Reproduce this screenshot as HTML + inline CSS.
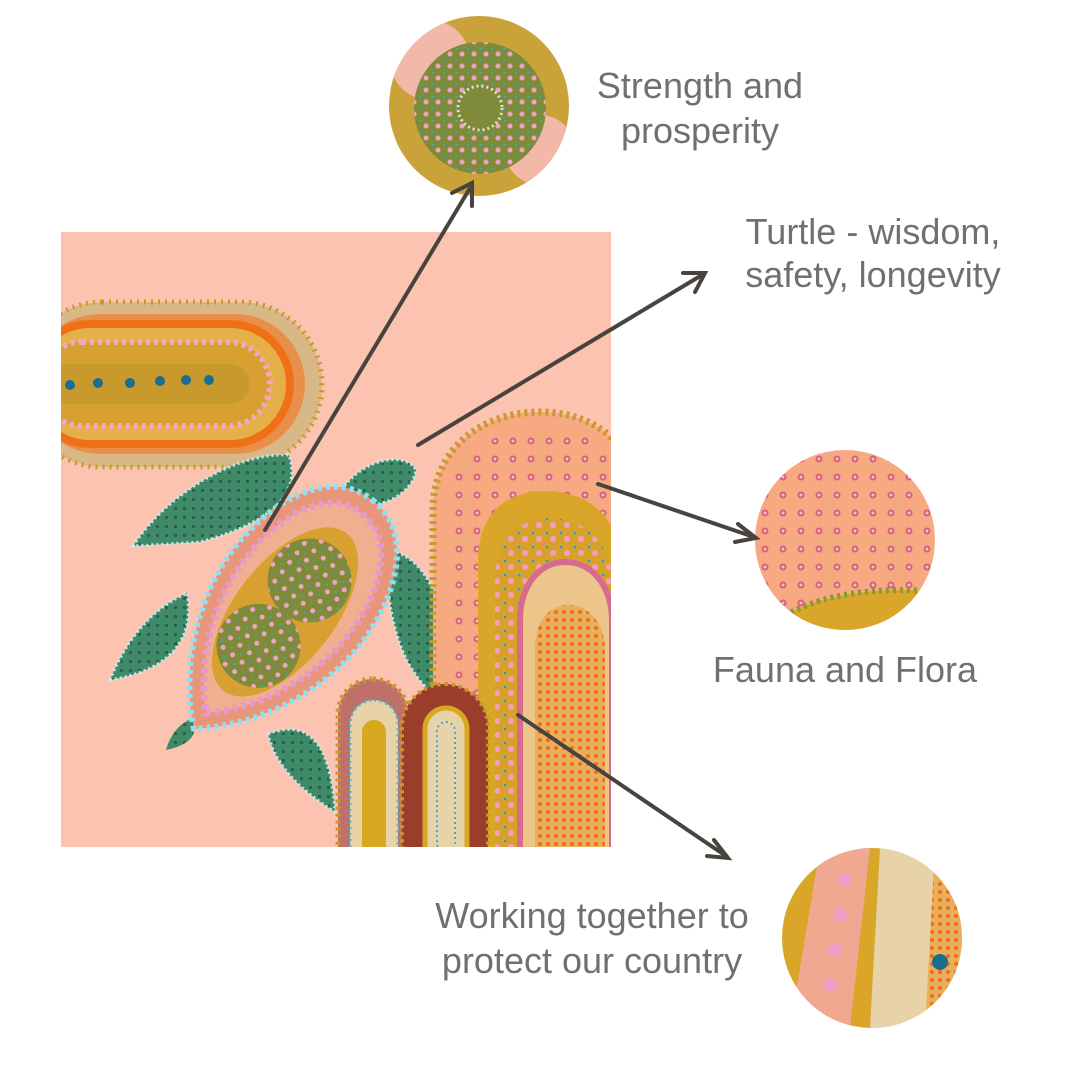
<!DOCTYPE html>
<html><head><meta charset="utf-8"><style>
html,body{margin:0;padding:0;background:#fff}
svg{display:block}
text{font-family:"Liberation Sans",sans-serif;fill:#707072;font-size:36px;text-anchor:middle}
</style></head><body>
<svg width="1080" height="1080" viewBox="0 0 1080 1080" xmlns="http://www.w3.org/2000/svg">
<defs>
<pattern id="gd" width="9" height="9" patternUnits="userSpaceOnUse"><rect width="9" height="9" fill="#3f8a68"/><circle cx="4.5" cy="4.5" r="1.6" fill="#2b5e4a"/></pattern>
<pattern id="pd" width="18" height="18" patternUnits="userSpaceOnUse"><rect width="18" height="18" fill="#f7a982"/><circle cx="9" cy="9" r="3.5" fill="#d95f7a"/><circle cx="9" cy="9" r="1.5" fill="#f6c0c8"/></pattern>
<pattern id="od" width="8" height="8" patternUnits="userSpaceOnUse"><rect width="8" height="8" fill="#e8b05a"/><circle cx="4" cy="4" r="2" fill="#f06a20"/></pattern>
<pattern id="md" width="12" height="12" patternUnits="userSpaceOnUse"><rect width="12" height="12" fill="#7f8a3a"/><circle cx="6" cy="6" r="2.5" fill="#e9a8c0"/><circle cx="0" cy="0" r="1.8" fill="#2bb7c8"/></pattern>
<pattern id="bd" width="14" height="14" patternUnits="userSpaceOnUse"><rect width="14" height="14" fill="#d8a22a"/><circle cx="7" cy="7" r="3" fill="#f0a0c0"/><circle cx="0" cy="0" r="2.5" fill="#2a9ac8"/></pattern>
<clipPath id="pc"><rect x="61" y="232" width="550" height="615"/></clipPath>
<clipPath id="c1"><circle cx="479" cy="106" r="90"/></clipPath>
<clipPath id="c2"><circle cx="845" cy="540" r="90"/></clipPath>
<clipPath id="c3"><circle cx="872" cy="938" r="90"/></clipPath>
</defs>
<rect x="61" y="232" width="550" height="615" fill="#fcc3b1"/>
<g clip-path="url(#pc)">
 <rect x="20" y="302" width="302" height="165" rx="82" fill="#d9b887" stroke="#c89a2a" stroke-width="5" stroke-dasharray="2 5"/>
 <rect x="30" y="314" width="275" height="140" rx="70" fill="#e88f4a"/>
 <rect x="30" y="324" width="260" height="120" rx="60" fill="#e6b048" stroke="#f07018" stroke-width="8"/>
 <rect x="40" y="342" width="230" height="84" rx="42" fill="#d8a030" stroke="#f2a6c0" stroke-width="6" stroke-dasharray="4 4"/>
 <rect x="50" y="364" width="200" height="40" rx="20" fill="#c89a2e"/>
 <g fill="#1a6d8f"><circle cx="70" cy="385" r="5"/><circle cx="98" cy="383" r="5"/><circle cx="130" cy="383" r="5"/><circle cx="160" cy="381" r="5"/><circle cx="186" cy="380" r="5"/><circle cx="209" cy="380" r="5"/></g>
 <path d="M133 546 C170 490 240 452 289 455 C300 490 280 520 200 542 Z" fill="url(#gd)" stroke="#bfeeee" stroke-width="3" stroke-dasharray="2 3"/>
 <path d="M342 490 C360 460 405 450 416 470 C412 495 380 510 350 505 Z" fill="url(#gd)" stroke="#bfeeee" stroke-width="3" stroke-dasharray="2 3"/>
 <path d="M387 550 C430 555 455 620 450 703 C415 690 385 640 387 550 Z" fill="url(#gd)" stroke="#bfeeee" stroke-width="3" stroke-dasharray="2 3"/>
 <path d="M110 680 C130 630 160 605 187 593 C195 640 170 670 110 680 Z" fill="url(#gd)" stroke="#bfeeee" stroke-width="3" stroke-dasharray="2 3"/>
 <path d="M166 750 C170 735 180 722 194 718 C198 735 190 745 166 750 Z" fill="url(#gd)"/>
 <path d="M268 734 C300 722 330 730 335 812 C300 790 275 765 268 734 Z" fill="url(#gd)" stroke="#bfeeee" stroke-width="3" stroke-dasharray="2 3"/>
 <g transform="rotate(38 285 612)">
  <path d="M285 470 C350 470 372 560 362 620 C352 690 310 740 285 760 C260 740 218 690 208 620 C198 560 220 470 285 470 Z" fill="#e8957a" stroke="#8fe0f2" stroke-width="6" stroke-dasharray="4 4"/>
  <path d="M285 487 C338 487 356 565 347 620 C338 680 305 722 285 740 C265 722 232 680 223 620 C214 565 232 487 285 487 Z" fill="#f0b090" stroke="#e79ac8" stroke-width="7" stroke-dasharray="5 4"/>
  <ellipse cx="285" cy="612" rx="50" ry="100" fill="#d8a030"/>
  <circle cx="285" cy="572" r="42" fill="url(#md)"/>
  <circle cx="285" cy="655" r="42" fill="url(#md)"/>
 </g>
 <path d="M433 860 L433 510 C433 450 480 412 540 412 C600 412 640 450 640 510 L640 860 Z" fill="#f7a982" stroke="#c89a2a" stroke-width="7" stroke-dasharray="3 4"/>
 <path d="M446 860 L446 515 C446 462 490 428 540 428 C600 428 630 462 630 515 L630 860 Z" fill="url(#pd)"/>
 <path d="M478 860 L478 560 C478 515 505 491 545 491 C590 491 620 520 620 560 L620 860 Z" fill="#d9a62a"/>
 <path d="M495 860 L495 580 C495 540 520 518 550 518 C585 518 612 545 612 580 L612 860 Z" fill="url(#bd)"/>
 <path d="M520 860 L520 620 C520 585 540 562 565 562 C595 562 612 590 612 620 L612 860 Z" fill="#ecc58a" stroke="#d76b8e" stroke-width="6"/>
 <path d="M535 860 L535 650 C535 620 550 605 568 605 C590 605 605 625 605 650 L605 860 Z" fill="url(#od)"/>
 <rect x="338" y="679" width="70" height="200" rx="35" fill="#c0706a" stroke="#c89a2a" stroke-width="5" stroke-dasharray="3 4"/>
 <rect x="350" y="700" width="48" height="170" rx="24" fill="#e8d2a8" stroke="#3ab8d0" stroke-width="3" stroke-dasharray="2 4"/>
 <rect x="362" y="720" width="24" height="140" rx="12" fill="#d8a820"/>
 <rect x="402" y="684" width="86" height="200" rx="43" fill="#9a3d2a" stroke="#c89a2a" stroke-width="4" stroke-dasharray="3 4"/>
 <rect x="425" y="708" width="42" height="160" rx="21" fill="#e8d2a8" stroke="#d8a820" stroke-width="5"/>
 <rect x="437" y="722" width="18" height="130" rx="9" fill="#e8d2a8" stroke="#4aa8d8" stroke-width="2" stroke-dasharray="2 3"/>
</g>
<g clip-path="url(#c1)">
 <rect x="389" y="16" width="180" height="180" fill="#c9a23a"/>
 <circle cx="430" cy="60" r="40" fill="#f2b8a8"/>
 <circle cx="540" cy="150" r="35" fill="#f2b8a8"/>
 <circle cx="480" cy="108" r="66" fill="url(#md)"/>
 <circle cx="480" cy="108" r="22" fill="#7f8a3a" stroke="#e8e0c8" stroke-width="3" stroke-dasharray="2 3"/>
</g>
<g clip-path="url(#c2)">
 <rect x="755" y="450" width="180" height="180" fill="url(#pd)"/>
 <ellipse cx="900" cy="650" rx="140" ry="60" fill="#d9a62a" stroke="#8a9a30" stroke-width="6" stroke-dasharray="3 4"/>
</g>
<g clip-path="url(#c3)">
 <rect x="782" y="848" width="180" height="180" fill="#d9a62a"/>
 <path d="M820 848 L870 848 L850 1028 L790 1028 Z" fill="#f0a890"/>
 <path d="M880 848 L935 848 L930 1028 L870 1028 Z" fill="#e8d2a8"/>
 <path d="M935 848 L962 848 L962 1028 L925 1028 Z" fill="url(#od)"/>
 <g fill="#f0a0c8"><circle cx="845" cy="880" r="7"/><circle cx="840" cy="915" r="7"/><circle cx="835" cy="950" r="7"/><circle cx="830" cy="985" r="7"/></g>
 <circle cx="940" cy="962" r="8" fill="#1a6d8f"/>
</g>
<g stroke="#47433d" stroke-width="4" fill="none" stroke-linecap="round">
 <line x1="265" y1="530" x2="470" y2="188"/>
 <polyline points="452,193 472,183 472,206"/>
 <line x1="418" y1="445" x2="702" y2="275"/>
 <polyline points="683,273 705,273 695,292"/>
 <line x1="598" y1="484" x2="754" y2="537"/>
 <polyline points="738,524 756,538 735,542"/>
 <line x1="518" y1="715" x2="726" y2="856"/>
 <polyline points="714,840 728,858 707,856"/>
</g>
<text x="700" y="98">Strength and</text>
<text x="700" y="143">prosperity</text>
<text x="873" y="244">Turtle - wisdom,</text>
<text x="873" y="287">safety, longevity</text>
<text x="845" y="682">Fauna and Flora</text>
<text x="592" y="928">Working together to</text>
<text x="592" y="973">protect our country</text>
</svg>
</body></html>
